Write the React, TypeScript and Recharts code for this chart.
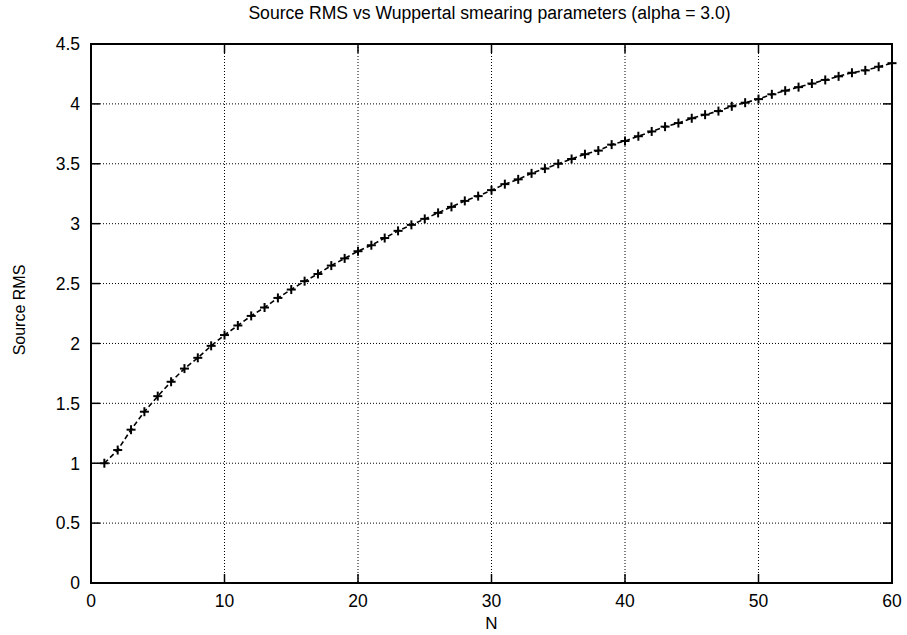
import React from "react";
import {
  CartesianGrid,
  Line,
  LineChart,
  ReferenceArea,
  XAxis,
  YAxis,
} from "recharts";

const N_VALUES = [
  1, 2, 3, 4, 5, 6, 7, 8, 9, 10, 11, 12, 13, 14, 15, 16, 17, 18, 19, 20, 21, 22,
  23, 24, 25, 26, 27, 28, 29, 30, 31, 32, 33, 34, 35, 36, 37, 38, 39, 40, 41, 42,
  43, 44, 45, 46, 47, 48, 49, 50, 51, 52, 53, 54, 55, 56, 57, 58, 59, 60,
];

const RMS_VALUES = [
  1.0, 1.11, 1.28, 1.43, 1.56, 1.68, 1.79, 1.88, 1.98, 2.07, 2.15, 2.23, 2.3,
  2.38, 2.45, 2.52, 2.58, 2.65, 2.71, 2.77, 2.82, 2.88, 2.94, 2.99, 3.04, 3.09,
  3.14, 3.19, 3.23, 3.28, 3.33, 3.37, 3.42, 3.46, 3.5, 3.54, 3.58, 3.61, 3.66,
  3.69, 3.73, 3.77, 3.81, 3.84, 3.88, 3.91, 3.94, 3.98, 4.01, 4.04, 4.08, 4.11,
  4.14, 4.17, 4.2, 4.23, 4.26, 4.28, 4.31, 4.34,
];

const X_TICKS = [0, 10, 20, 30, 40, 50, 60];
const Y_TICKS = [0, 0.5, 1, 1.5, 2, 2.5, 3, 3.5, 4, 4.5];

const TITLE = "Source RMS vs Wuppertal smearing parameters (alpha = 3.0)";
const X_LABEL = "N";
const Y_LABEL = "Source RMS";

const data = N_VALUES.map((n, i) => ({ n, rms: RMS_VALUES[i] }));

const W = 907;
const H = 635;
const PLOT_LEFT = 91;
const PLOT_RIGHT = 892;
const PLOT_TOP = 44;
const PLOT_BOTTOM = 583;
const TICK_LEN = 9;
const FONT = '"Liberation Sans", Arial, Helvetica, sans-serif';

function PlusDot(props: any) {
  const { cx, cy } = props;
  if (cx == null || cy == null) return null;
  const r = 4.5;
  return (
    <g stroke="#000" strokeWidth={2}>
      <line x1={cx - r} y1={cy} x2={cx + r} y2={cy} />
      <line x1={cx} y1={cy - r} x2={cx} y2={cy + r} />
    </g>
  );
}

function YTick(props: any) {
  const { payload } = props;
  const y = payload.coordinate;
  return (
    <g>
      <line x1={PLOT_LEFT} y1={y} x2={PLOT_LEFT + TICK_LEN} y2={y} stroke="#000" strokeWidth={1.5} />
      <line x1={PLOT_RIGHT} y1={y} x2={PLOT_RIGHT - TICK_LEN} y2={y} stroke="#000" strokeWidth={1.5} />
      <text
        x={PLOT_LEFT - 11}
        y={y}
        dy="0.36em"
        textAnchor="end"
        fill="#000"
        style={{ fontFamily: FONT, fontSize: 17.5 }}
      >
        {payload.value}
      </text>
    </g>
  );
}

function XTick(props: any) {
  const { payload } = props;
  const x = payload.coordinate;
  return (
    <g>
      <line x1={x} y1={PLOT_BOTTOM} x2={x} y2={PLOT_BOTTOM - TICK_LEN} stroke="#000" strokeWidth={1.5} />
      <line x1={x} y1={PLOT_TOP} x2={x} y2={PLOT_TOP + TICK_LEN} stroke="#000" strokeWidth={1.5} />
      <text
        x={x}
        y={PLOT_BOTTOM + 24}
        textAnchor="middle"
        fill="#000"
        style={{ fontFamily: FONT, fontSize: 17.5 }}
      >
        {payload.value}
      </text>
    </g>
  );
}

export default function App() {
  return (
    <div
      style={{
        position: "absolute",
        left: 0,
        top: 0,
        width: W,
        height: H,
        background: "#fff",
        fontFamily: FONT,
      }}
    >
      <div
        style={{
          position: "absolute",
          left: 0,
          top: 2,
          width: (PLOT_LEFT + PLOT_RIGHT) - 4,
          textAlign: "center",
          fontSize: 17.6,
          color: "#000",
          lineHeight: "22px",
        }}
      >
        {TITLE}
      </div>
      <LineChart
        width={W}
        height={H}
        data={data}
        margin={{ top: PLOT_TOP, right: W - PLOT_RIGHT, bottom: 0, left: 0 }}
      >
        <CartesianGrid
          stroke="#000"
          strokeWidth={1}
          strokeDasharray="1 2"
        />
        <XAxis
          dataKey="n"
          type="number"
          domain={[0, 60]}
          ticks={X_TICKS}
          interval={0}
          height={H - PLOT_BOTTOM}
          axisLine={false}
          tickLine={false}
          tick={<XTick />}
          label={{
            content: () => (
              <text
                x={(PLOT_LEFT + PLOT_RIGHT) / 2}
                y={H - 6}
                textAnchor="middle"
                fill="#000"
                style={{ fontFamily: FONT, fontSize: 17 }}
              >
                {X_LABEL}
              </text>
            ),
          }}
        />
        <YAxis
          type="number"
          domain={[0, 4.5]}
          ticks={Y_TICKS}
          interval={0}
          width={PLOT_LEFT}
          axisLine={false}
          tickLine={false}
          tick={<YTick />}
          label={{
            content: () => (
              <text
                x={19}
                y={310}
                transform="rotate(-90 19 310)"
                textAnchor="middle"
                dominantBaseline="central"
                fill="#000"
                style={{ fontFamily: FONT, fontSize: 16 }}
              >
                {Y_LABEL}
              </text>
            ),
          }}
        />
        <Line
          type="linear"
          dataKey="rms"
          stroke="#000"
          strokeWidth={1.6}
          strokeDasharray="5 3"
          dot={<PlusDot />}
          activeDot={false}
          isAnimationActive={false}
        />
        <ReferenceArea
          x1={0}
          x2={60}
          y1={0}
          y2={4.5}
          fill="none"
          stroke="#000"
          strokeWidth={2}
          ifOverflow="visible"
        />
      </LineChart>
    </div>
  );
}
